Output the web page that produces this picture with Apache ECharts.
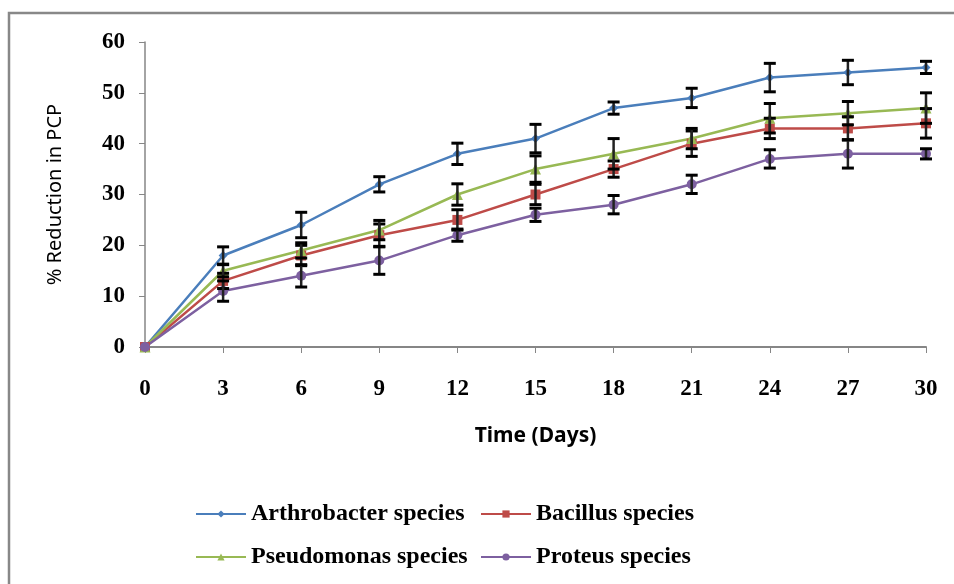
<!DOCTYPE html>
<html>
<head>
<meta charset="utf-8">
<script src="https://cdn.jsdelivr.net/npm/echarts@6/dist/echarts.min.js"></script>
<style>
  html, body { margin: 0; padding: 0; background: #fff; }
  #chart { width: 954px; height: 584px; }
</style>
</head>
<body>
<div id="chart"></div>
<script>
  // days of sampling
  var days = [0, 3, 6, 9, 12, 15, 18, 21, 24, 27, 30];

  var arthrobacter = [0, 18, 24, 32, 38, 41, 47, 49, 53, 54, 55];
  var bacillus     = [0, 13, 18, 22, 25, 30, 35, 40, 43, 43, 44];
  var pseudomonas  = [0, 15, 19, 23, 30, 35, 38, 41, 45, 46, 47];
  var proteus      = [0, 11, 14, 17, 22, 26, 28, 32, 37, 38, 38];

  // standard deviation (+/-)
  var arthrobacterErr = [0, 1.7, 2.5, 1.5, 2.1, 2.8, 1.2, 1.9, 2.8, 2.4, 1.2];
  var bacillusErr     = [0, 1.5, 2.0, 2.2, 2.0, 2.0, 1.6, 2.5, 2.0, 2.3, 2.9];
  var pseudomonasErr  = [0, 1.2, 1.5, 1.9, 2.1, 2.6, 3.0, 2.0, 2.9, 2.3, 3.0];
  var proteusErr      = [0, 2.0, 2.2, 2.7, 1.2, 1.3, 1.8, 1.8, 1.8, 2.8, 1.0];

  var yTicks = [0, 10, 20, 30, 40, 50, 60];

  var names = ['Arthrobacter species', 'Bacillus species', 'Pseudomonas species', 'Proteus species'];
  var colors = ['#4a7ebb', '#be4b48', '#98b954', '#7d60a0'];

  function pairs(vals) {
    var out = [];
    for (var i = 0; i < days.length; i++) out.push([days[i], vals[i]]);
    return out;
  }
  function errData(vals, err) {
    var out = [];
    for (var i = 0; i < days.length; i++) {
      if (err[i] > 0) out.push([days[i], vals[i] - err[i], vals[i] + err[i]]);
    }
    return out;
  }

  function errSeries(vals, err) {
    return {
      type: 'custom',
      data: errData(vals, err),
      z: 5,
      silent: true,
      encode: { x: 0, y: [1, 2] },
      renderItem: function (params, api) {
        var x = api.value(0);
        var lo = api.coord([x, api.value(1)]);
        var hi = api.coord([x, api.value(2)]);
        var w = 6;
        return {
          type: 'group',
          children: [
            { type: 'line', shape: { x1: lo[0], y1: lo[1], x2: hi[0], y2: hi[1] },
              style: { stroke: '#222', lineWidth: 2.5 } },
            { type: 'line', shape: { x1: lo[0] - w, y1: lo[1], x2: lo[0] + w, y2: lo[1] },
              style: { stroke: '#000', lineWidth: 3 } },
            { type: 'line', shape: { x1: hi[0] - w, y1: hi[1], x2: hi[0] + w, y2: hi[1] },
              style: { stroke: '#000', lineWidth: 3 } }
          ]
        };
      }
    };
  }

  function lineSeries(idx, vals, symbol, size) {
    return {
      name: names[idx],
      type: 'line',
      data: pairs(vals),
      symbol: symbol,
      symbolSize: size,
      color: colors[idx],
      lineStyle: { width: 2.5, color: colors[idx] },
      itemStyle: { color: colors[idx] },
      z: 3
    };
  }

  var legendText = { fontFamily: 'Liberation Serif', fontWeight: 'bold', fontSize: 24, color: '#000' };
  function legendAt(name, left, top) {
    return {
      data: [name], left: left, top: top,
      itemWidth: 50, itemHeight: 9, itemGap: 0,
      textStyle: legendText
    };
  }

  var chart = echarts.init(document.getElementById('chart'));
  var option = {
    animation: false,
    backgroundColor: '#fff',
    graphic: [{
      type: 'rect',
      shape: { x: 9, y: 13, width: 1000, height: 700 },
      style: { fill: 'none', stroke: '#888', lineWidth: 2.5 },
      silent: true
    }],
    grid: { left: 145, right: 28, top: 42, bottom: 237 },
    legend: [
      legendAt(names[0], 190, 497),
      legendAt(names[1], 475, 497),
      legendAt(names[2], 190, 540),
      legendAt(names[3], 475, 540)
    ],
    xAxis: {
      type: 'value',
      min: 0, max: 30, interval: 3,
      name: 'Time (Days)',
      nameLocation: 'middle',
      nameGap: 79,
      nameTextStyle: { fontFamily: 'Noto Sans', fontWeight: 'bold', fontSize: 21, color: '#000' },
      splitLine: { show: false },
      axisLine: { lineStyle: { color: '#868686', width: 2 } },
      axisTick: { show: true, length: 6, lineStyle: { color: '#868686' } },
      axisLabel: {
        margin: 31,
        fontFamily: 'Liberation Serif', fontWeight: 'bold', fontSize: 23, color: '#000'
      }
    },
    yAxis: {
      type: 'value',
      min: yTicks[0], max: yTicks[yTicks.length - 1], interval: 10,
      name: '% Reduction in PCP',
      nameLocation: 'middle',
      nameGap: 80,
      nameTextStyle: { fontFamily: 'Noto Sans', fontSize: 20, color: '#000' },
      splitLine: { show: false },
      axisLine: { show: true, lineStyle: { color: '#868686', width: 1.5 } },
      axisTick: { show: true, length: 6, lineStyle: { color: '#868686' } },
      axisLabel: {
        margin: 20,
        fontFamily: 'Liberation Serif', fontWeight: 'bold', fontSize: 23, color: '#000'
      }
    },
    series: [
      lineSeries(0, arthrobacter, 'diamond', 9),
      lineSeries(1, bacillus, 'rect', 10),
      lineSeries(2, pseudomonas, 'triangle', 11),
      lineSeries(3, proteus, 'circle', 10),
      errSeries(arthrobacter, arthrobacterErr),
      errSeries(bacillus, bacillusErr),
      errSeries(pseudomonas, pseudomonasErr),
      errSeries(proteus, proteusErr)
    ]
  };
  chart.setOption(option);
</script>
</body>
</html>
